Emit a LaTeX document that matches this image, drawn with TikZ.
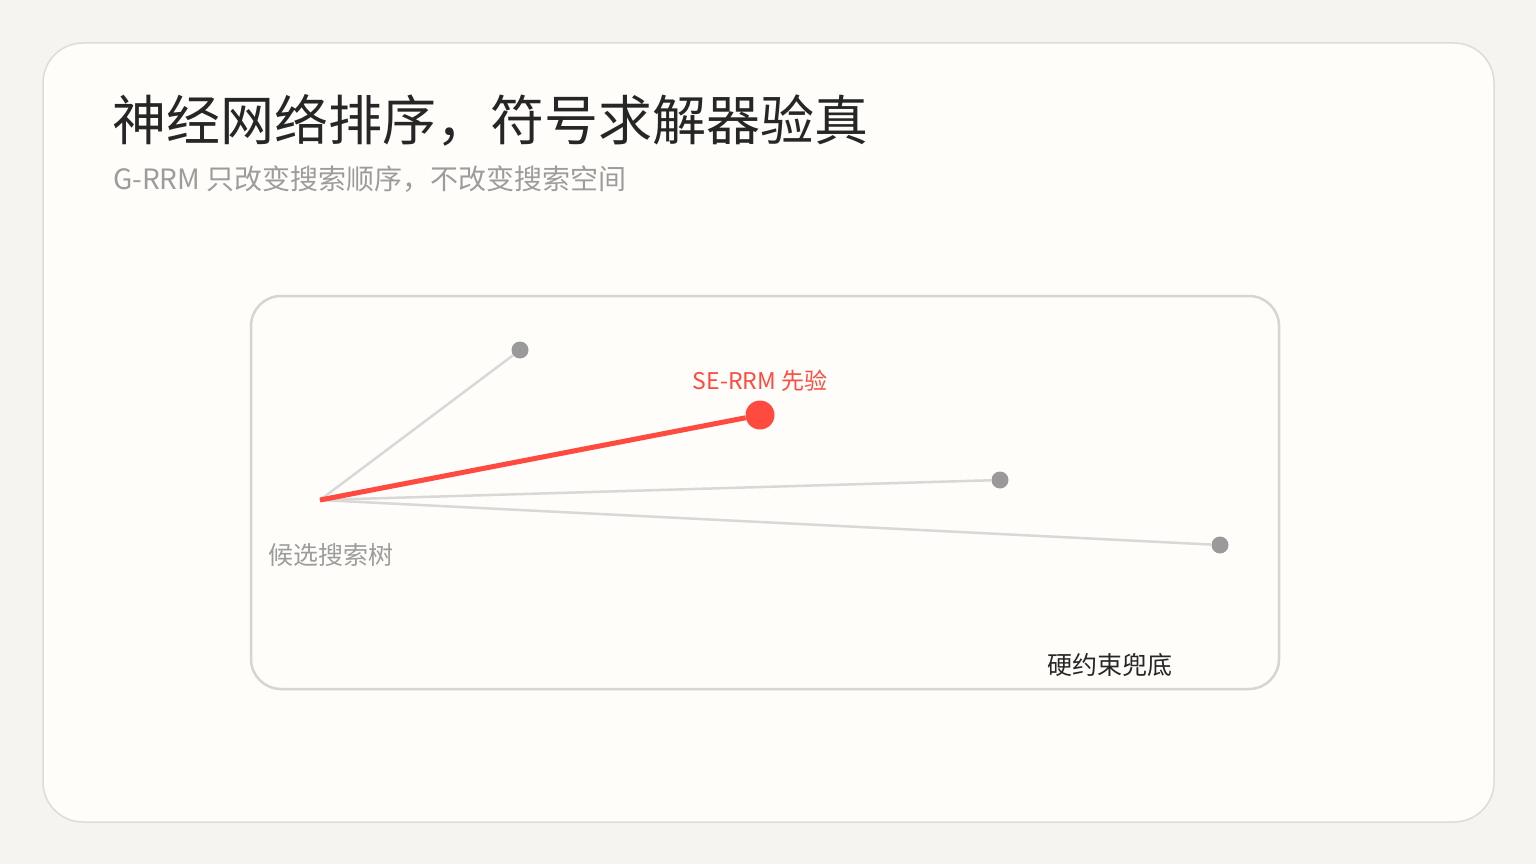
\documentclass[tikz,border=0pt]{standalone}
\usepackage{fontspec}
\setmainfont{Noto Sans CJK SC}
\definecolor{pagebg}{HTML}{F5F4F1}
\definecolor{cardbg}{HTML}{FEFDFA}
\definecolor{cardline}{HTML}{DEDCDA}
\definecolor{panelline}{HTML}{D6D5D4}
\definecolor{edgegray}{HTML}{D8D8D8}
\definecolor{dotgray}{HTML}{9A9A9A}
\definecolor{priorred}{HTML}{FF4A3F}
\definecolor{titleink}{HTML}{262626}
\definecolor{subink}{HTML}{9C9C9C}
\tikzset{
  leaf/.style={circle, fill=dotgray, minimum size=17pt, inner sep=0pt},
  prior/.style={circle, fill=priorred, minimum size=29pt, inner sep=0pt},
  branch/.style={edgegray, line width=2.5pt},
  pick/.style={priorred, line width=5pt},
  label/.style={inner sep=0pt, anchor=base west},
}
\begin{document}
\begin{tikzpicture}[x=1pt,y=-1pt]
\useasboundingbox (0,0) rectangle (1536,864);
\fill[pagebg] (0,0) rectangle (1536,864);
% card and panel
\draw[cardline, line width=1.5pt, fill=cardbg, rounded corners=40pt] (43,43) rectangle (1494,822);
\draw[panelline, line width=2.5pt, fill=cardbg, rounded corners=30pt] (251,296) rectangle (1279,689);
% headings
\node[label, font=\fontsize{54}{60}\selectfont, text=titleink] (title) at (112,141) {神经网络排序，符号求解器验真};
\node[label, font=\fontsize{28}{32}\selectfont, text=subink] (sub) at (113,189) {G-RRM 只改变搜索顺序，不改变搜索空间};
% tree
\coordinate (root) at (320,500);
\node[leaf] (n1) at (520,350) {};
\node[leaf] (n3) at (1000,480) {};
\node[leaf] (n4) at (1220,545) {};
\node[prior] (n2) at (760,415) {};
\draw[branch] (root) -- (n1);
\draw[branch] (root) -- (n3);
\draw[branch] (root) -- (n4);
\draw[pick] (root) -- (n2);
% labels
\node[inner sep=0pt, anchor=base, font=\fontsize{23}{28}\selectfont, text=priorred] (priorlab) at (760,389) {SE-RRM 先验};
\node[label, font=\fontsize{25}{28}\selectfont, text=subink] (treelab) at (268,564) {候选搜索树};
\node[label, font=\fontsize{25}{28}\selectfont, text=titleink] (hardlab) at (1047,674) {硬约束兜底};
\end{tikzpicture}
\end{document}
